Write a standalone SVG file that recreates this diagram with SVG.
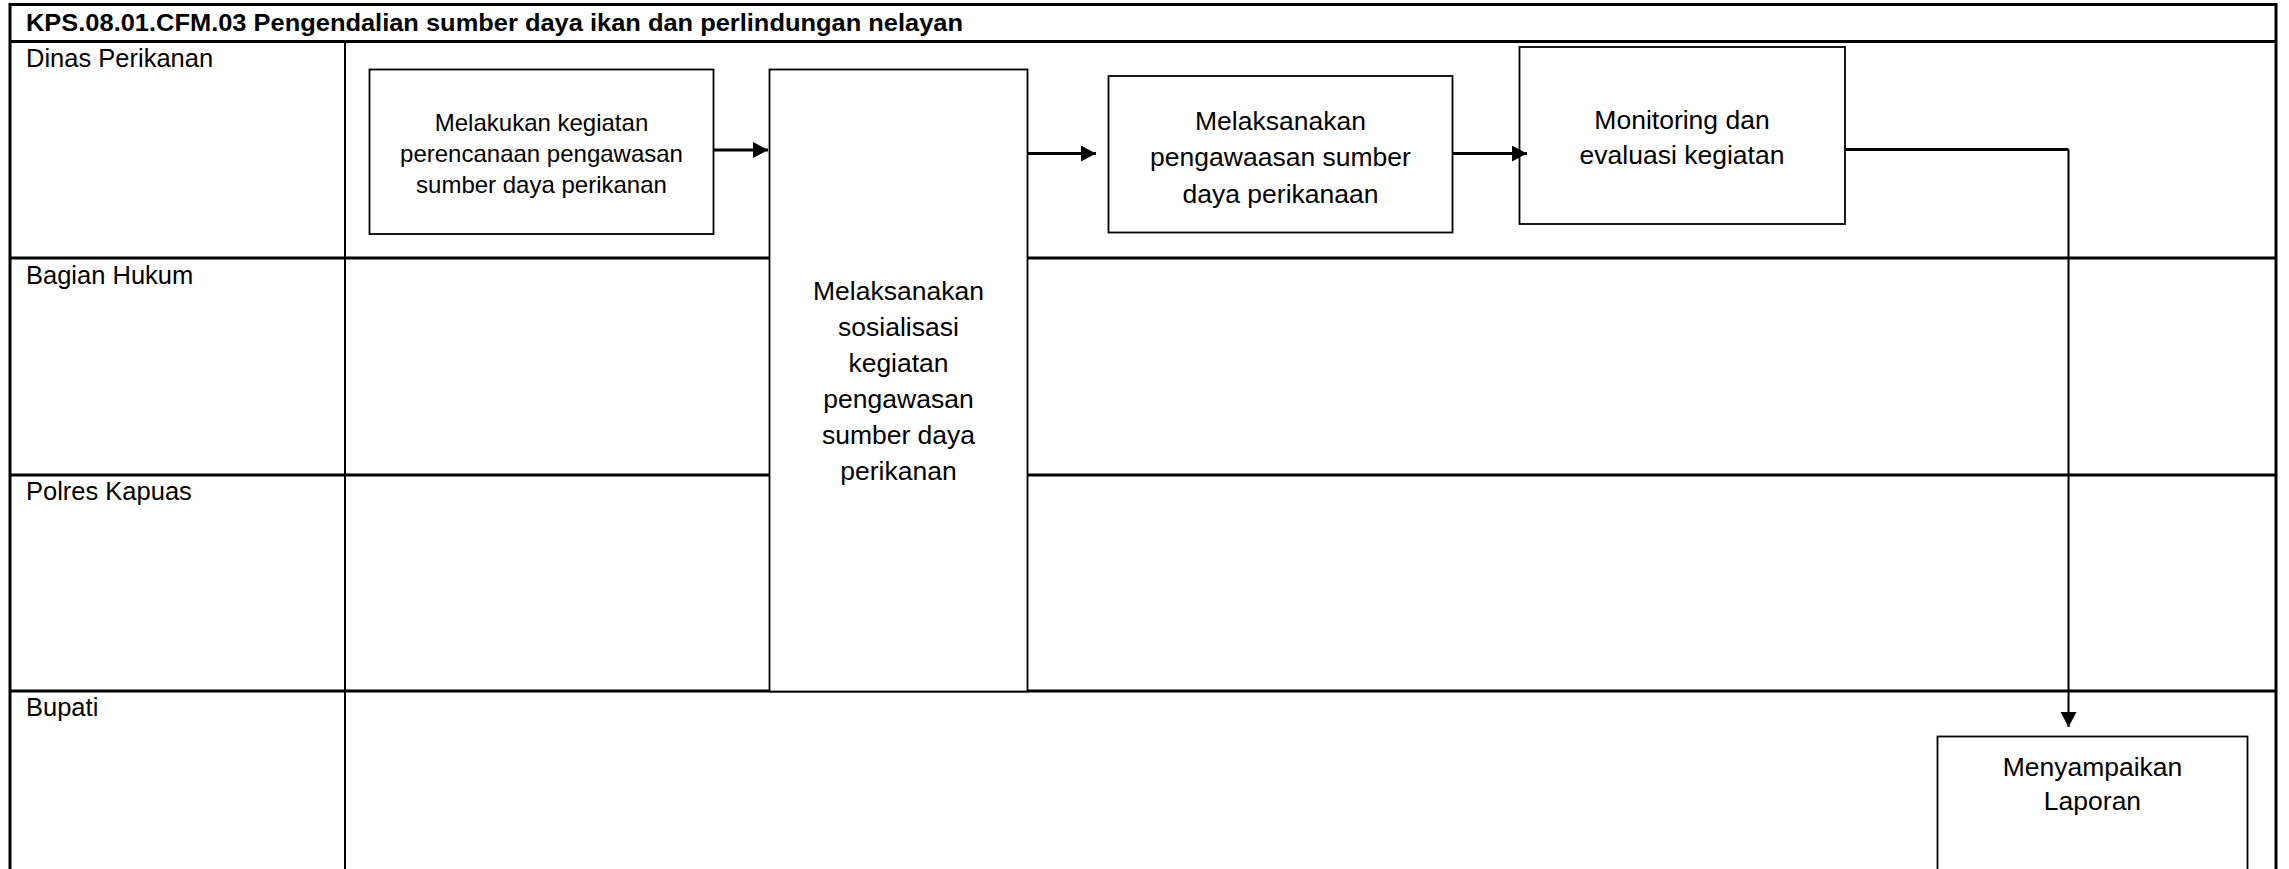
<svg xmlns="http://www.w3.org/2000/svg" width="2289" height="869" viewBox="0 0 2289 869">
  <style>
    .frame { fill: none; stroke: #000; stroke-width: 3; }
    .lane { stroke: #000; stroke-width: 3; }
    .div { stroke: #000; stroke-width: 2; }
    .box { fill: #fff; stroke: #000; stroke-width: 1.8; }
    .shadow { fill: none; stroke: #9a9a9a; stroke-width: 1.5; }
    .title { font-family: "Liberation Sans", Arial, sans-serif; font-weight: bold; font-size: 24px; fill: #000; }
    .lbl { font-family: "Liberation Sans", Arial, sans-serif; font-size: 25.5px; fill: #000; }
    .t { font-family: "Liberation Sans", Arial, sans-serif; font-size: 26.5px; fill: #000; text-anchor: middle; }
    .t1 { font-family: "Liberation Sans", Arial, sans-serif; font-size: 24px; fill: #000; text-anchor: middle; }
    .conn { fill: none; stroke: #000; stroke-width: 3; }
    .conn2 { fill: none; stroke: #000; stroke-width: 2; }
  </style>
  <defs>
    <marker id="arr" markerUnits="userSpaceOnUse" markerWidth="16" markerHeight="17" refX="15" refY="8" orient="auto">
      <path d="M0,0 L15,8 L0,16 z" fill="#000"/>
    </marker>
  </defs>
  <rect width="2289" height="869" fill="#fff"/>

  <g id="pool">
    <rect class="frame" x="10" y="4.5" width="2266" height="900"/>
    <line class="lane" x1="10" y1="41.5" x2="2276" y2="41.5"/>
    <text class="title" x="26" y="31" textLength="937" lengthAdjust="spacingAndGlyphs">KPS.08.01.CFM.03 Pengendalian sumber daya ikan dan perlindungan nelayan</text>
    <line class="lane" x1="10" y1="258" x2="2276" y2="258"/>
    <line class="lane" x1="10" y1="475" x2="2276" y2="475"/>
    <line class="lane" x1="10" y1="691" x2="2276" y2="691"/>
    <line class="div" x1="345" y1="41.5" x2="345" y2="869"/>
  </g>

  <g id="lane-dinas"><text class="lbl" x="26" y="66.5">Dinas Perikanan</text></g>
  <g id="lane-hukum"><text class="lbl" x="26" y="283.5">Bagian Hukum</text></g>
  <g id="lane-polres"><text class="lbl" x="26" y="500">Polres Kapuas</text></g>
  <g id="lane-bupati"><text class="lbl" x="26" y="716">Bupati</text></g>

  <g id="n1">
    <rect class="box" x="369.5" y="69.5" width="344" height="164.5"/>
    <text class="t1" x="541.5" y="130.5">Melakukan kegiatan</text>
    <text class="t1" x="541.5" y="161.5">perencanaan pengawasan</text>
    <text class="t1" x="541.5" y="192.5">sumber daya perikanan</text>
  </g>

  <g id="n2">
    <rect class="box" x="769.5" y="69.5" width="258" height="622"/>
    <text class="t" x="898.5" y="300">Melaksanakan</text>
    <text class="t" x="898.5" y="336">sosialisasi</text>
    <text class="t" x="898.5" y="372">kegiatan</text>
    <text class="t" x="898.5" y="408">pengawasan</text>
    <text class="t" x="898.5" y="444">sumber daya</text>
    <text class="t" x="898.5" y="480">perikanan</text>
  </g>

  <g id="n3">
    <rect class="box" x="1108.5" y="76" width="344" height="156.5"/>
    <text class="t" x="1280.5" y="129.5">Melaksanakan</text>
    <text class="t" x="1280.5" y="166">pengawaasan sumber</text>
    <text class="t" x="1280.5" y="202.5">daya perikanaan</text>
  </g>

  <g id="n4">
    <rect class="box" x="1519.5" y="47" width="325.5" height="177"/>
    <text class="t" x="1682" y="128.5">Monitoring dan</text>
    <text class="t" x="1682" y="164">evaluasi kegiatan</text>
  </g>

  <g id="n5">
    <rect class="box" x="1937.5" y="736.5" width="310" height="200"/>
    <text class="t" x="2092.5" y="776">Menyampaikan</text>
    <text class="t" x="2092.5" y="810">Laporan</text>
  </g>

  <g id="connectors">
    <line class="conn" x1="713.5" y1="150" x2="768" y2="150" marker-end="url(#arr)"/>
    <line class="conn" x1="1027.5" y1="153.5" x2="1096" y2="153.5" marker-end="url(#arr)"/>
    <line class="conn" x1="1452.5" y1="153.5" x2="1527" y2="153.5" marker-end="url(#arr)"/>
    <path class="conn" d="M1845,149.5 H2068.5"/>
    <path class="conn2" d="M2068.5,149.5 V727" marker-end="url(#arr)"/>
  </g>
</svg>
